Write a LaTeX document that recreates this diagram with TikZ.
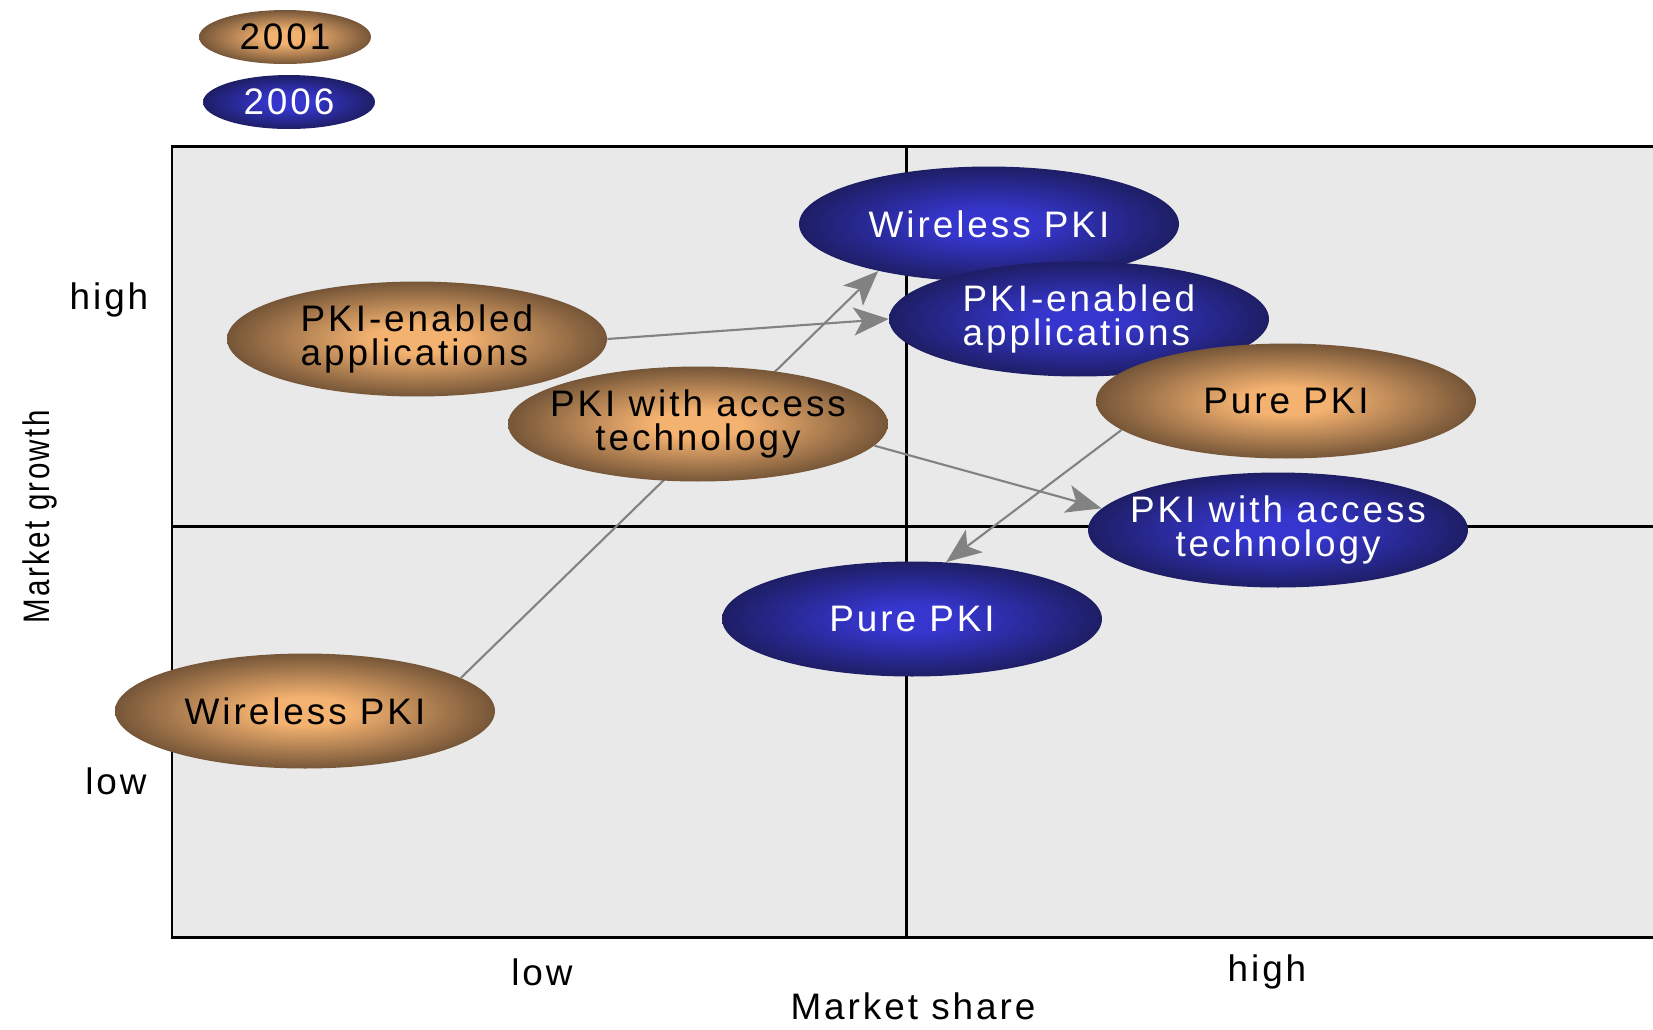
\documentclass[tikz,border=0pt]{standalone}
\usepackage{fontspec}
\newfontfamily\chartfont[LetterSpace=8]{Liberation Sans}
\usetikzlibrary{shapes.geometric,arrows.meta}

\definecolor{tanlight}{RGB}{244,178,112}
\definecolor{tandark}{RGB}{118,86,56}
\definecolor{navylight}{RGB}{54,54,206}
\definecolor{navydark}{RGB}{30,30,102}
\definecolor{boxgray}{RGB}{233,233,233}
\definecolor{arrowgray}{RGB}{130,130,130}

\pgfdeclareradialshading{yearold}{\pgfpoint{0bp}{0bp}}{color(0bp)=(tanlight); color(6bp)=(tanlight); color(25bp)=(tandark); color(50bp)=(tandark)}
\pgfdeclareradialshading{yearnew}{\pgfpoint{0bp}{0bp}}{color(0bp)=(navylight); color(6bp)=(navylight); color(25bp)=(navydark); color(50bp)=(navydark)}

\pgfdeclarelayer{bg}
\pgfdeclarelayer{links}
\pgfsetlayers{bg,links,main}

\begin{document}
\begin{tikzpicture}[x=0.02cm,y=-0.02cm,
  font=\chartfont\fontsize{21}{19}\selectfont,
  bubble/.style={ellipse,minimum width=7.6cm,minimum height=2.3cm,inner xsep=-0.8cm,inner ysep=0pt},
  old/.style={bubble,shading=yearold,text=black},
  new/.style={bubble,shading=yearnew,text=white},
  key/.style={minimum width=3.44cm,minimum height=1.08cm,inner xsep=0.2cm},
  move/.style={draw=arrowgray,line width=1.2pt,-{Stealth[length=20pt,width=16pt,inset=5pt]}}]

\useasboundingbox (0,0) rectangle (1653,1029);

\begin{pgfonlayer}{bg}
\fill[boxgray] (172,146) rectangle (1670,937);
\draw[line width=1.7pt] (1670,146) -- (172,146) -- (172,937) -- (1670,937);
\draw[line width=1.7pt] (906,146) -- (906,937) (172,526) -- (1670,526);
\end{pgfonlayer}

% legend
\node[old,key] (key01) at (285,37) {2001};
\node[new,key] (key06) at (289,102) {2006};

% axes
\node (growhigh) at (109,300) {high};
\node (growlow) at (116,781) {low};
\node[rotate=90] (growth) at (40,517) {\scalebox{0.8}[1]{Market growth}};
\node (sharelow) at (542,972) {low};
\node (sharehigh) at (1267,972) {high};
\node (share) at (913,1006) {Market share};

% 2006
\node[new] (wl06) at (989,224) {Wireless PKI};
\node[new,align=left] (pe06) at (1079,319) {PKI-enabled\\applications};
% 2001
\node[old,align=left] (pe01) at (417,339) {PKI-enabled\\applications};
\node[old,align=center] (ac01) at (698,424) {PKI with access\\technology};
\node[old] (wl01) at (305,711) {Wireless PKI};
\node[old] (pu01) at (1286,401) {Pure PKI};
\node[new,align=center] (ac06) at (1278,530) {PKI with access\\technology};
\node[new] (pu06) at (912,619) {Pure PKI};

\begin{pgfonlayer}{links}
\draw[move] (wl01.12) -- (wl06.203);
\draw[move] (pe01.east) -- (pe06.west);
\draw[move] (ac01.-7) -- (ac06.173);
\draw[move] (pu01.190) -- (pu06.59);
\end{pgfonlayer}
\end{tikzpicture}
\end{document}
